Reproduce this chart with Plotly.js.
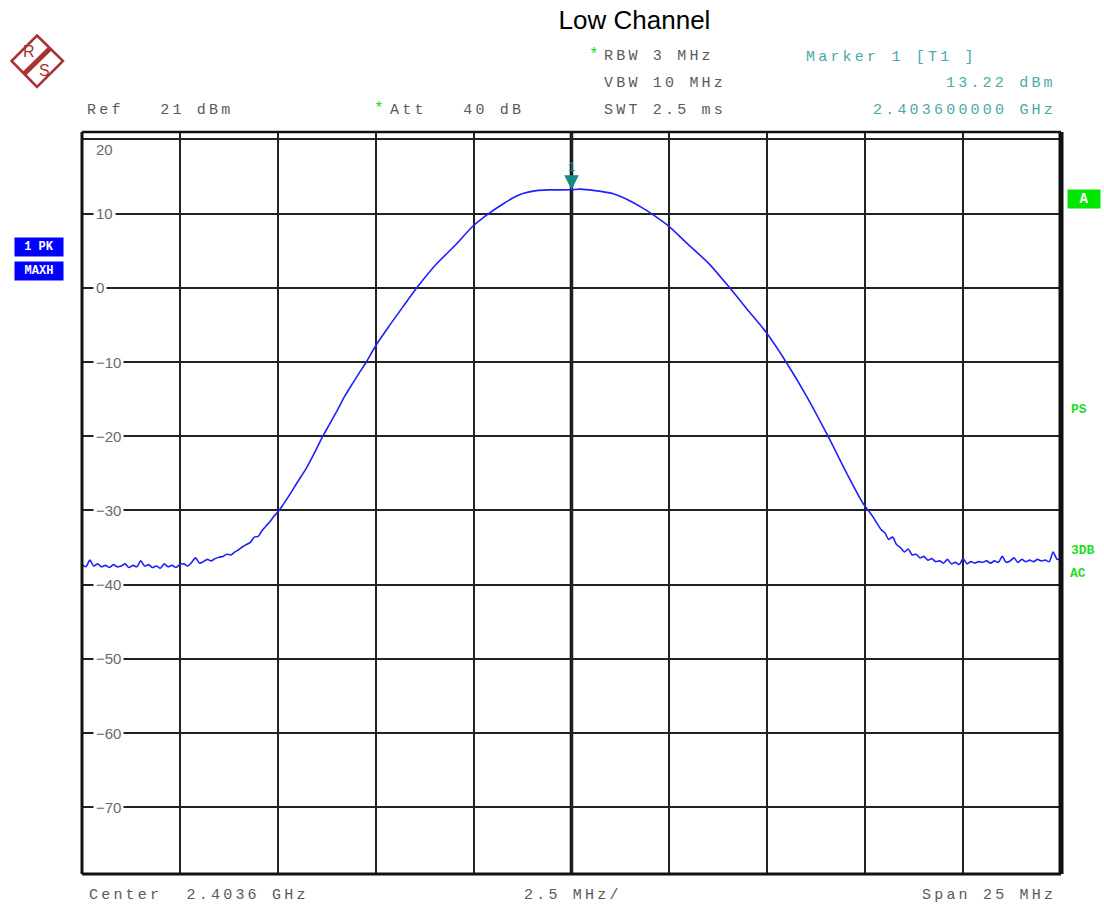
<!DOCTYPE html>
<html><head><meta charset="utf-8">
<script src="https://cdn.plot.ly/plotly-3.0.1.min.js"></script>
<style>html,body{margin:0;padding:0;background:#fff}#chart{width:1104px;height:909px}</style>
</head><body><div id="chart"></div>
<script>
// ---------------- data ----------------
const chartTitle = 'Low Channel';
const centerFreqMHz = 2403.6;
const spanMHz = 25;
const refLevelDbm = 21;
const bottomLevelDbm = -79;
const markerFreqMHz = 2403.6;
const markerLevelDbm = 13.22;
const attDb = 40;
const settingLines = ['RBW 3 MHz', 'VBW 10 MHz', 'SWT 2.5 ms'];
const markerTitle = 'Marker 1 [T1 ]';
const traceLabels = ['1 PK', 'MAXH'];
const statusLabels = ['PS', '3DB', 'AC'];
const yTickValues = [20, 10, 0, -10, -20, -30, -40, -50, -60, -70];
const yTickLabels = ['20', '10', '0', '\u221210', '\u221220', '\u221230', '\u221240', '\u221250', '\u221260', '\u221270'];

const frequencyMHz = [
  2391.1, 2391.2, 2391.3, 2391.4, 2391.5, 2391.6, 2391.7, 2391.8, 2391.9, 2392.0,
  2392.1, 2392.2, 2392.3, 2392.4, 2392.5, 2392.6, 2392.7, 2392.8, 2392.9, 2393.0,
  2393.1, 2393.2, 2393.3, 2393.4, 2393.5, 2393.6, 2393.7, 2393.8, 2393.9, 2394.0,
  2394.1, 2394.2, 2394.3, 2394.4, 2394.5, 2394.6, 2394.7, 2394.8, 2394.9, 2395.0,
  2395.1, 2395.2, 2395.3, 2395.4, 2395.5, 2395.6, 2395.7, 2395.8, 2395.9, 2396.0,
  2396.1, 2396.2, 2396.4, 2396.6, 2396.83, 2397.05, 2397.25, 2397.42, 2397.59, 2397.8,
  2398.02, 2398.2, 2398.36, 2398.6, 2398.95, 2399.29, 2399.68, 2400.15, 2400.66, 2401.08,
  2401.51, 2401.85, 2402.1, 2402.36, 2402.7, 2403.0, 2403.3, 2403.6, 2403.8, 2404.06,
  2404.35, 2404.65, 2404.9, 2405.17, 2405.4, 2405.64, 2406.06, 2406.53, 2407.12, 2407.64,
  2408.15, 2408.57, 2409.08, 2409.59, 2410.15, 2410.62, 2411.04, 2411.29, 2411.51, 2411.6,
  2411.7, 2411.8, 2411.9, 2412.0, 2412.1, 2412.2, 2412.3, 2412.4, 2412.5, 2412.6,
  2412.7, 2412.8, 2412.9, 2413.0, 2413.1, 2413.2, 2413.3, 2413.4, 2413.5, 2413.6,
  2413.7, 2413.8, 2413.9, 2414.0, 2414.1, 2414.2, 2414.3, 2414.4, 2414.5, 2414.6,
  2414.7, 2414.8, 2414.9, 2415.0, 2415.1, 2415.2, 2415.3, 2415.4, 2415.5, 2415.6,
  2415.7, 2415.8, 2415.9, 2416.0, 2416.1
];
const levelDbm = [
  -37.3, -37.6, -36.7, -37.5, -37.2, -37.6, -37.4, -37.7, -37.3, -37.6,
  -37.5, -37.2, -37.7, -37.4, -37.6, -36.8, -37.5, -37.3, -37.7, -37.5,
  -37.8, -37.2, -37.6, -37.4, -37.7, -37.3, -37.2, -37.5, -37.0, -36.4,
  -37.1, -36.9, -36.6, -36.8, -36.5, -36.3, -36.2, -35.9, -36.0, -35.6,
  -35.3, -34.9, -34.6, -34.3, -33.6, -33.5, -32.7, -32.1, -31.5, -30.8,
  -30.2, -29.5, -27.9, -26.2, -24.3, -22.1, -20.0, -18.4, -16.8, -14.7,
  -12.8, -11.3, -10.0, -7.8, -5.1, -2.6, 0.2, 3.2, 5.9, 8.3,
  10.1, 11.3, 12.1, 12.7, 13.1, 13.2, 13.2, 13.22, 13.3, 13.2,
  13.0, 12.7, 12.2, 11.5, 10.8, 10.0, 8.4, 6.1, 3.2, 0.0,
  -3.3, -6.0, -10.0, -14.5, -20.0, -24.9, -29.0, -30.8, -32.6, -33.0,
  -33.9, -33.6, -34.6, -35.0, -35.6, -35.2, -36.0, -35.9, -36.4, -36.2,
  -36.7, -36.5, -36.9, -36.8, -37.1, -36.6, -37.2, -37.0, -37.3, -36.5,
  -37.2, -36.9, -37.1, -36.9, -37.0, -36.8, -37.1, -36.8, -37.0, -36.2,
  -37.0, -36.8, -36.4, -37.0, -36.6, -36.9, -36.7, -36.9, -36.6, -36.8,
  -36.7, -36.9, -35.6, -36.6, -36.5
];

// ---------------- geometry helpers (pixels -> paper) ----------------
const W = 1104, H = 909;
const PL = 82, PR = 1061, PT = 132, PB = 874;
const px = x => (x - PL) / (PR - PL);
const py = y => (PB - y) / (PB - PT);

const MONO = 'Liberation Mono, DejaVu Sans Mono, monospace';
const SANS = 'Liberation Sans, Arial, sans-serif';
const GRAY = '#5a5a5a';
const TEAL = '#4aa9a9';
const GREEN = '#22dd22';
const sp = t => '<span style="letter-spacing:3.2px">' + t + '</span>';

const ann = [];
function txt(text, x, y, o) {
  o = o || {};
  ann.push(Object.assign({
    xref: 'paper', yref: 'paper', x: px(x), y: py(y),
    xanchor: o.xa || 'left', yanchor: 'middle', showarrow: false,
    text: text, font: {family: o.family || MONO, size: o.size || 15, color: o.color || GRAY}
  }, o.extra || {}));
}

// header settings
txt('*', 587, 55, {color: GREEN, size: 16});
settingLines.forEach((s, i) => txt(sp(s), 602, [56, 84, 111][i]));
txt(sp(markerTitle), 804, 58, {color: TEAL});
txt(sp(markerLevelDbm.toFixed(2) + ' dBm'), 1058, 84, {color: TEAL, xa: 'right'});
txt(sp((markerFreqMHz / 1000).toFixed(9) + ' GHz'), 1058, 111, {color: TEAL, xa: 'right'});
txt(sp('Ref   ' + refLevelDbm + ' dBm'), 85, 111);
txt('*', 372, 109, {color: GREEN, size: 16});
txt(sp('Att   ' + attDb + ' dB'), 388, 111);
// footer
txt(sp('Center  ' + (centerFreqMHz / 1000) + ' GHz'), 87, 895);
txt(sp((spanMHz / 10) + ' MHz/'), 522, 895);
txt(sp('Span ' + spanMHz + ' MHz'), 1058, 895, {xa: 'right'});
// right side status
ann.push({xref: 'paper', yref: 'paper', x: px(1084), y: py(199), xanchor: 'center', yanchor: 'middle',
  showarrow: false, text: '<b>A</b>', bgcolor: '#00e600', width: 30, height: 16,
  font: {family: MONO, size: 14, color: '#ffffff'}});
statusLabels.forEach((s, i) => txt('<b>' + s + '</b>', [1069, 1069, 1068][i], [409, 550, 573][i], {color: GREEN, size: 13}));
// left trace labels
traceLabels.forEach((s, i) => ann.push({xref: 'paper', yref: 'paper', x: px(39), y: py([247, 271][i]),
  xanchor: 'center', yanchor: 'middle', showarrow: false, text: '<b>' + s + '</b>', bgcolor: '#0000ff',
  width: 46, height: 16, font: {family: MONO, size: 12, color: '#ffffff'}}));
// y tick labels inside the grid
yTickValues.forEach((v, i) => ann.push({xref: 'paper', yref: 'y', x: px(93), y: v, xanchor: 'left',
  yanchor: 'middle', yshift: v === 20 ? -10 : 0, showarrow: false, text: yTickLabels[i],
  bgcolor: v === 20 ? 'rgba(0,0,0,0)' : '#ffffff', borderpad: 2,
  font: {family: SANS, size: 15, color: '#6a6a6a'}}));
// marker
ann.push({x: markerFreqMHz, y: markerLevelDbm, xref: 'x', yref: 'y', text: '1', showarrow: true,
  arrowhead: 2, arrowsize: 1.7, arrowwidth: 1.7, arrowcolor: '#178a8a', ax: 0, ay: -22, standoff: 0,
  font: {family: MONO, size: 12, color: '#178a8a'}});
// logo letters
txt('R', 29, 52, {family: SANS, size: 16, color: '#a83232', xa: 'center'});
txt('S', 44, 70, {family: SANS, size: 16, color: '#a83232', xa: 'center'});

const shapes = [
  // logo diamond and stripe
  {type: 'path', xref: 'paper', yref: 'paper', layer: 'above',
   path: `M ${px(37)},${py(35.5)} L ${px(63)},${py(61)} L ${px(37)},${py(87)} L ${px(11.5)},${py(61)} Z`,
   line: {color: '#a83232', width: 2.5}},
  {type: 'line', xref: 'paper', yref: 'paper', x0: px(24.5), y0: py(73.5), x1: px(50), y1: py(48.5),
   line: {color: '#a83232', width: 5}},
  // plot frame
  {type: 'line', xref: 'paper', yref: 'paper', x0: 0, x1: 0, y0: 0, y1: 1, line: {color: '#111', width: 3}},
  {type: 'line', xref: 'paper', yref: 'paper', x0: 1, x1: 1, y0: 0, y1: 1, line: {color: '#111', width: 5}},
  {type: 'line', xref: 'paper', yref: 'paper', x0: 0, x1: 1, y0: 1, y1: 1, line: {color: '#111', width: 2.5}},
  {type: 'line', xref: 'paper', yref: 'paper', x0: 0, x1: 1, y0: 0, y1: 0, line: {color: '#111', width: 3}},
  // center frequency line
  {type: 'line', xref: 'x', yref: 'paper', x0: centerFreqMHz, x1: centerFreqMHz, y0: 0, y1: 1,
   layer: 'below', line: {color: '#111', width: 3.5}}
];

const trace = {
  x: frequencyMHz, y: levelDbm, type: 'scatter', mode: 'lines',
  line: {color: '#1f1fff', width: 1.6, shape: 'spline', smoothing: 0.7}, hoverinfo: 'skip'
};

const layout = {
  width: W, height: H,
  margin: {l: PL, r: W - PR, t: PT, b: H - PB, pad: 0},
  paper_bgcolor: '#ffffff', plot_bgcolor: '#ffffff',
  showlegend: false,
  title: {text: chartTitle, xref: 'container', yref: 'container', x: 634.5 / W, y: 1 - 20 / H,
          xanchor: 'center', yanchor: 'middle', font: {family: SANS, size: 26, color: '#000'}},
  xaxis: {range: [centerFreqMHz - spanMHz / 2, centerFreqMHz + spanMHz / 2], tick0: centerFreqMHz,
          dtick: spanMHz / 10, showgrid: true, gridcolor: '#222', gridwidth: 2,
          showticklabels: false, ticks: '', zeroline: false, showline: false, fixedrange: true},
  yaxis: {range: [bottomLevelDbm, refLevelDbm], tick0: 0, dtick: 10, showgrid: true, gridcolor: '#222',
          gridwidth: 2, showticklabels: false, ticks: '', zeroline: false, showline: false, fixedrange: true},
  annotations: ann,
  shapes: shapes
};

Plotly.newPlot('chart', [trace], layout, {displayModeBar: false, staticPlot: true});
</script>
</body></html>
